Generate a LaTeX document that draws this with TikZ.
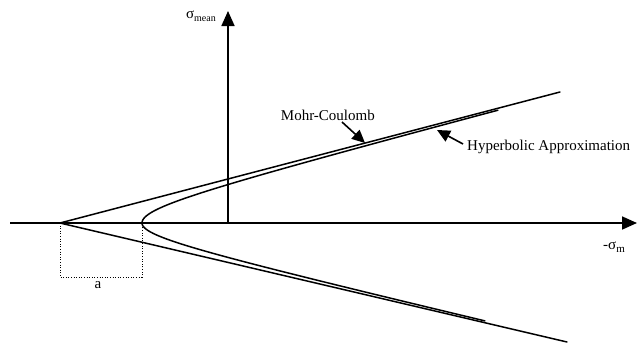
\documentclass[tikz,border=0pt]{standalone}
\usepackage{fontspec}
\setmainfont{Liberation Serif}
\usetikzlibrary{arrows.meta}
\begin{document}
\begin{tikzpicture}[x=1pt,y=-1pt,
  axis/.style={line width=1.7pt,-{Triangle[length=15pt,width=13pt]}},
  bound/.style={line width=1.5pt,line cap=round},
  hyp/.style={line width=1.5pt,line cap=round},
  dimline/.style={line width=1pt,dash pattern=on 1pt off 1.6pt},
  pointer/.style={line width=1.6pt,-{Triangle[length=13pt,width=12pt]}},
  lbl/.style={font=\fontsize{15}{17}\selectfont,inner sep=0pt}]
\useasboundingbox (0,0) rectangle (637,343);
\clip (0,0) rectangle (637,343);
% key points
\coordinate (xs) at (10,223);
\coordinate (xe) at (637,223);
\coordinate (yo) at (228,223);
\coordinate (ye) at (228,11);
\coordinate (A) at (60,223);
\coordinate (V) at (142,223);
\coordinate (ul) at (560,92);
\coordinate (ll) at (567,342);
\coordinate (Ad) at (60,277);
\coordinate (Vd) at (142,277);
% axes
\draw[axis] (xs) -- (xe);
\draw[axis] (yo) -- (ye);
% Mohr-Coulomb lines
\draw[bound] (ul) -- (A) -- (ll);
% hyperbolic approximation
\draw[hyp] plot[variable=\t,domain=2.329:0,samples=60] ({60+82*cosh(\t)},{223+19.25*sinh(\t)})
  -- plot[variable=\t,domain=0:2.36,samples=60] ({60+82*cosh(\t)},{223-21.5*sinh(\t)});
% dimension a
\draw[dimline] (A) -- (Ad) -- (Vd) -- (V);
\node[lbl] (a) at (98,285) {a};
% labels
\node[lbl,anchor=east] (sy) at (216,16) {σ\raisebox{-3pt}{\fontsize{10}{12}\selectfont mean}};
\node[lbl] (sx) at (614,247) {-σ\raisebox{-3pt}{\fontsize{11}{12}\selectfont m}};
\node[lbl,anchor=east] (mc) at (375,115) {Mohr-Coulomb};
\node[lbl,anchor=west] (ha) at (467,147) {Hyperbolic Approximation};
\coordinate (mctail) at (342,122);
\coordinate (mctip) at (365,143);
\coordinate (hatail) at (463,144);
\coordinate (hatip) at (437,130);
\draw[pointer] (mctail) -- (mctip);
\draw[pointer] (hatail) -- (hatip);
\end{tikzpicture}
\end{document}
